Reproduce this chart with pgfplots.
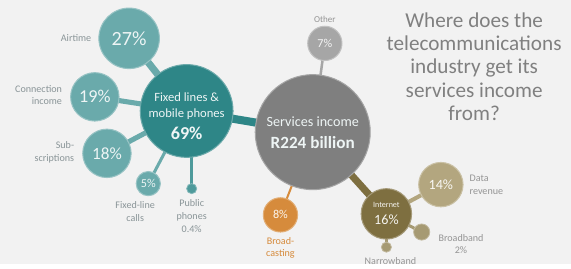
\documentclass[border=0pt]{standalone}
\usepackage{pgfplots}
\pgfplotsset{compat=1.18}
\usepackage{fontspec}
\setmainfont{Carlito}
\definecolor{bg}{HTML}{F2F2F2}
\definecolor{tealdark}{HTML}{2E8687}
\definecolor{teallight}{HTML}{6AAAAB}
\definecolor{tealmid}{HTML}{4E9A9B}
\definecolor{svgray}{HTML}{7F7F7F}
\definecolor{ltgray}{HTML}{A6A6A6}
\definecolor{orng}{HTML}{D68B3C}
\definecolor{olive}{HTML}{7E6F40}
\definecolor{tan}{HTML}{B3A67F}
\definecolor{tansm}{HTML}{A69A73}
\definecolor{lbl}{HTML}{8A9598}
\definecolor{ttl}{HTML}{808080}
\definecolor{wtxt}{HTML}{EEF5F5}
\newcommand{\fs}[2]{\fontsize{#1}{#2}\selectfont}
\begin{document}
\begin{tikzpicture}
\begin{axis}[width=571pt, height=266pt, scale only axis, set layers,
  xmin=0, xmax=571, ymin=0, ymax=266, y dir=reverse, hide axis, clip=false]
% background
\addplot[fill=bg, draw=none] coordinates {(5,0) (571,0) (571,262) (5,262)} -- cycle;
% connectors
\addplot[teallight, line width=7pt] coordinates {(133,38) (190,110)};
\addplot[teallight, line width=5pt] coordinates {(99,96) (190,110)};
\addplot[teallight, line width=5pt] coordinates {(111,152) (190,110)};
\addplot[teallight, line width=3pt] coordinates {(152,182) (190,110)};
\addplot[tealmid, line width=2.5pt] coordinates {(195,187) (195,110)};
\addplot[tealdark, line width=8pt] coordinates {(190,110) (315,131)};
\addplot[ltgray, line width=2.5pt] coordinates {(327,43) (315,131)};
\addplot[orng, line width=2pt] coordinates {(283,213) (315,131)};
\addplot[olive, line width=7pt] coordinates {(388,212) (315,131)};
\addplot[tan, line width=4pt] coordinates {(442,183) (388,212)};
\addplot[tansm, line width=3pt] coordinates {(423,230) (388,212)};
\addplot[tansm, line width=2.5pt] coordinates {(388,245) (388,212)};
% bubbles
\addplot[only marks, mark=*, mark size=30, teallight, mark options={draw=teallight!70!white, line width=1pt}] coordinates {(133,38)};
\addplot[only marks, mark=*, mark size=24, teallight, mark options={draw=teallight!70!white, line width=1pt}] coordinates {(99,96)};
\addplot[only marks, mark=*, mark size=24, teallight, mark options={draw=teallight!70!white, line width=1pt}] coordinates {(111,152)};
\addplot[only marks, mark=*, mark size=12, teallight, mark options={draw=teallight!70!white, line width=1pt}] coordinates {(152,182)};
\addplot[only marks, mark=*, mark size=5, tealmid, mark options={draw=tealmid!70!white, line width=0.8pt}] coordinates {(195,187)};
\addplot[only marks, mark=*, mark size=46, tealdark, mark options={draw=tealdark!70!white, line width=1pt}] coordinates {(190,110)};
\addplot[only marks, mark=*, mark size=57, svgray, mark options={draw=svgray!70!white, line width=1pt}] coordinates {(315,131)};
\addplot[only marks, mark=*, mark size=17, ltgray, mark options={draw=ltgray!70!white, line width=1pt}] coordinates {(327,43)};
\addplot[only marks, mark=*, mark size=17, orng, mark options={draw=orng!70!white, line width=1pt}] coordinates {(283,213)};
\addplot[only marks, mark=*, mark size=25, olive, mark options={draw=olive!70!white, line width=1pt}] coordinates {(388,212)};
\addplot[only marks, mark=*, mark size=22, tan, mark options={draw=tan!70!white, line width=1pt}] coordinates {(442,183)};
\addplot[only marks, mark=*, mark size=8, tansm, mark options={draw=tansm!70!white, line width=0.8pt}] coordinates {(423,230)};
\addplot[only marks, mark=*, mark size=5, tansm, mark options={draw=tansm!70!white, line width=0.8pt}] coordinates {(388,245)};
\begin{pgfonlayer}{axis foreground}
% in-bubble text
\node[text=wtxt, font=\fs{20}{22}] at (axis cs:133,38) {27\%};
\node[text=wtxt, font=\fs{18}{20}] at (axis cs:99,96) {19\%};
\node[text=wtxt, font=\fs{17}{20}] at (axis cs:111,152) {18\%};
\node[text=wtxt, font=\fs{12}{14}] at (axis cs:152,182) {5\%};
\node[text=wtxt, font=\fs{12.5}{15.5}, align=center] at (axis cs:190,105) {Fixed lines \&\\mobile phones};
\node[text=wtxt, font=\bfseries\fs{18}{20}] at (axis cs:190,132) {69\%};
\node[text=wtxt, font=\fs{14}{16}] at (axis cs:315,121) {Services income};
\node[text=wtxt, font=\bfseries\fs{17}{20}] at (axis cs:315,141) {R224 billion};
\node[text=white!92!gray, font=\fs{12}{14}] at (axis cs:327,43) {7\%};
\node[text=white!92!orng, font=\fs{12}{14}] at (axis cs:283,213) {8\%};
\node[text=white!92!olive, font=\fs{8}{9}] at (axis cs:388,203) {Internet};
\node[text=white!92!olive, font=\fs{14}{16}] at (axis cs:388,218) {16\%};
\node[text=white!92!tan, font=\fs{14}{16}] at (axis cs:442,183) {14\%};
% outer labels
\node[text=lbl, font=\fs{10}{12}, anchor=east] at (axis cs:99,38) {Airtime};
\node[text=lbl, font=\fs{10}{12}, anchor=east, align=right] at (axis cs:70,94) {Connection\\income};
\node[text=lbl, font=\fs{10}{12}, anchor=east, align=right] at (axis cs:82,151) {Sub-\\scriptions};
\node[text=lbl, font=\fs{10}{13}, align=center] at (axis cs:139,210) {Fixed-line\\calls};
\node[text=lbl, font=\fs{10}{13}, align=center] at (axis cs:195,214) {Public\\phones\\0.4\%};
\node[text=ltgray!90!black, font=\fs{9}{11}] at (axis cs:327,19) {Other};
\node[text=orng, font=\fs{10}{12}, align=center] at (axis cs:283,246) {Broad-\\casting};
\node[text=ltgray!90!black, font=\fs{10}{12}] at (axis cs:392,259) {Narrowband};
\node[text=ltgray!90!black, font=\fs{10}{13}, anchor=west, align=left] at (axis cs:467,183) {Data\\revenue};
\node[text=ltgray!90!black, font=\fs{10}{12}, align=center] at (axis cs:462,242) {Broadband\\2\%};
% title
\node[text=ttl, font=\fs{21}{23}, align=center] at (axis cs:475,66) {Where does the\\telecommunications\\industry get its\\services income\\from?};
\end{pgfonlayer}
\end{axis}
\end{tikzpicture}
\end{document}
